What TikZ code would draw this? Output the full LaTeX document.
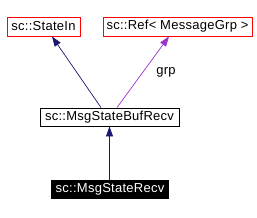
\documentclass[tikz,border=0pt]{standalone}
\usepackage{fontspec}
\setmainfont{Liberation Sans}[LetterSpace=2]
\usetikzlibrary{arrows.meta,calc}
\definecolor{edgeblue}{RGB}{25,25,112}
\definecolor{edgepurple}{RGB}{154,50,205}
\begin{document}
\begin{tikzpicture}[x=1pt,y=-1pt,
  lbltxt/.style={font=\fontsize{13}{15}\selectfont},
  cls/.style={lbltxt,draw=red,line width=0.9pt,rectangle,inner sep=0pt,minimum height=19pt},
  plain/.style={lbltxt,draw=black,line width=0.9pt,rectangle,inner sep=0pt,minimum height=18pt},
  cur/.style={lbltxt,fill=black,text=white,rectangle,inner sep=0pt,minimum height=19pt},
  inh/.style={draw=edgeblue,line width=0.7pt,-{Triangle[length=10pt,width=7pt,fill=edgeblue]}},
  use/.style={draw=edgepurple,line width=0.7pt,-{Triangle[length=10pt,width=7pt,fill=edgepurple]}}]
\useasboundingbox (0,0) rectangle (257,217);
\node[cls,minimum width=73pt] (statein) at (43.5,26.5) {sc::StateIn};
\node[cls,minimum width=149pt] (ref) at (177.5,26.5) {sc::Ref< MessageGrp >};
\node[plain,minimum width=139pt] (bufrecv) at (109.5,117) {sc::MsgStateBufRecv};
\node[cur,minimum width=118pt] (recv) at (110,189.5) {sc::MsgStateRecv};
\draw[inh] ($(bufrecv.north)+(-8.5,0)$) -- ($(statein.south)+(8.5,0)$);
\draw[use] ($(bufrecv.north)+(7.5,0)$) -- ($(ref.south)+(-8.5,0)$);
\node[lbltxt] (lbl) at (166,72) {grp};
\draw[inh] (recv.north -| bufrecv.north) -- (bufrecv.south);
\end{tikzpicture}
\end{document}
